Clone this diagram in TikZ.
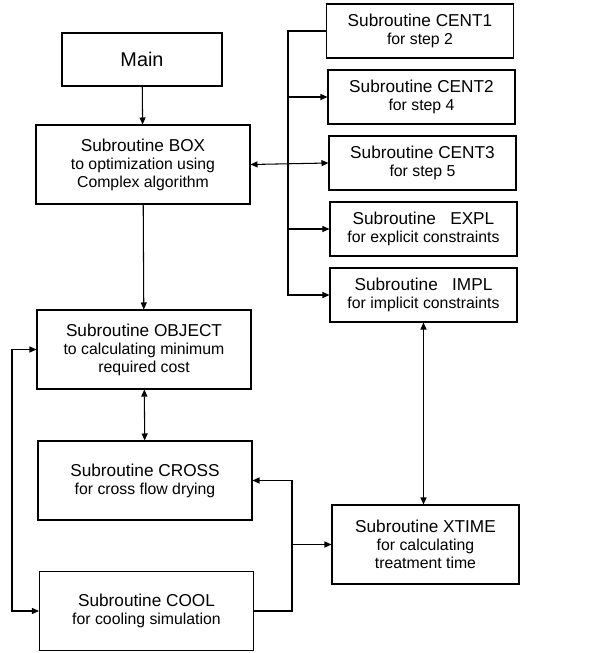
\documentclass[tikz,border=0pt]{standalone}
\usepackage{fontspec}
\setmainfont{Liberation Sans}
\usetikzlibrary{arrows.meta,positioning}

\tikzset{
	subbox/.style={draw, line width=0.6pt, minimum width=4.28cm,
		minimum height=1.58cm, align=center, inner sep=1pt,
		font=\fontsize{9}{10.2}\selectfont},
	smallbox/.style={subbox, minimum width=3.74cm, minimum height=1.08cm},
	link/.style={line width=0.6pt, -{Triangle[length=1.4mm,width=1.2mm]}},
	twoway/.style={line width=0.6pt,
		{Triangle[length=1.4mm,width=1.2mm]}-{Triangle[length=1.4mm,width=1.2mm]}},
}
\newcommand{\routine}[1]{{\fontsize{9.8}{10.2}\selectfont #1}}

\begin{document}
\begin{tikzpicture}[x=0.02cm, y=-0.02cm]
		\useasboundingbox (0,0) rectangle (605,653);
		% left column
		\node[subbox, minimum width=3.2cm, minimum height=1.06cm,
			font=\fontsize{11.3}{12}\selectfont] (main) at (142,59.5) {Main};
		\node[subbox] (box) at (143,164.5)
			{\routine{Subroutine BOX}\\to optimization using\\Complex algorithm};
		\node[subbox] (object) at (144,349.5)
			{\routine{Subroutine OBJECT}\\to calculating minimum\\required cost};
		\node[subbox] (cross) at (145,480.5)
			{\routine{Subroutine CROSS}\\for cross flow drying};
		\node[subbox] (cool) at (146.5,611)
			{\routine{Subroutine COOL}\\for cooling simulation};
		% right column
		\node[smallbox] (cent1) at (420,31)
			{\routine{Subroutine CENT1}\\for step 2};
		\node[smallbox] (cent2) at (421.5,97)
			{\routine{Subroutine CENT2}\\for step 4};
		\node[smallbox] (cent3) at (422.5,163)
			{\routine{Subroutine CENT3}\\for step 5};
		\node[smallbox] (expl) at (423.5,229)
			{\routine{Subroutine~~~EXPL}\\for explicit constraints};
		\node[smallbox] (impl) at (423.5,295)
			{\routine{Subroutine~~~IMPL}\\for implicit constraints};
		\node[subbox, minimum width=3.74cm] (xtime) at (425.5,544.5)
			{\routine{Subroutine XTIME}\\for calculating\\treatment time};

		\coordinate (trunk) at (288,0);
		\coordinate (loop) at (12,0);
		\coordinate (join) at (292,0);

		\draw[link] (main) -- (box);
		\draw[link] (box) -- (object);
		\draw[twoway] (object) -- (cross);
		\draw[twoway] (box.east) -- (cent3.west);
		\draw[link] (cent1.west) -| (trunk |- impl.west) -- (impl.west);
		\foreach \n in {cent2,expl}
			\draw[link] (trunk |- \n.west) -- (\n.west);
		\draw[twoway] (object.west) -| (loop |- cool.west) -- (cool.west);
		\draw[link] (cool.east) -| (join |- cross.east) -- (cross.east);
		\draw[link] (join |- xtime.west) -- (xtime.west);
		\draw[twoway] (impl.south) -- (impl.south |- xtime.north);
	\end{tikzpicture}
\end{document}
